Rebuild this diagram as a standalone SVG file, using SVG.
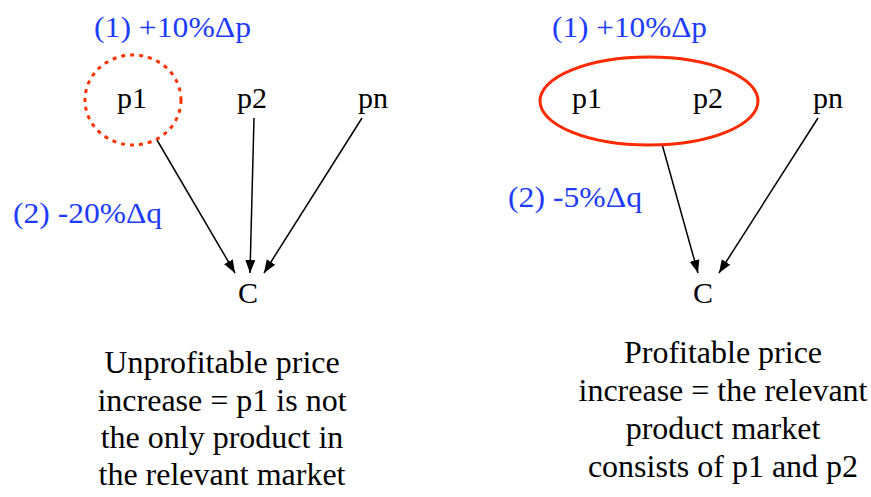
<svg xmlns="http://www.w3.org/2000/svg" width="871" height="497" viewBox="0 0 871 497" font-family="'Liberation Serif', 'DejaVu Serif', serif">
<style>
.lbl{font-family:'Liberation Serif','DejaVu Serif',serif;font-size:30px;fill:#000;text-anchor:middle;}
.blue{font-family:'Liberation Serif','DejaVu Serif',serif;font-size:30px;fill:#1d3cff;}
.cap{font-family:'Liberation Serif','DejaVu Serif',serif;font-size:32px;fill:#000;text-anchor:middle;}
.edge{stroke:#000;stroke-width:1.5;fill:none;marker-end:url(#ah);}
</style>
<defs>
<marker id="ah" markerUnits="userSpaceOnUse" markerWidth="14" markerHeight="12" refX="13" refY="5" orient="auto" viewBox="0 0 14 10">
<path d="M0,0 L13,5 L0,10 Z" fill="#000"/>
</marker>
</defs>
<rect width="871" height="497" fill="#fff"/>
<g id="connectors">
<line class="edge" x1="157" y1="140" x2="235" y2="273"/>
<line class="edge" x1="254" y1="118" x2="250" y2="273"/>
<line class="edge" x1="362" y1="118" x2="264" y2="273"/>
<line class="edge" x1="662" y1="144" x2="698" y2="273"/>
<line class="edge" x1="818" y1="118" x2="719" y2="273"/>
</g>
<g id="left-label1"><text class="blue" x="94" y="37" textLength="157" lengthAdjust="spacingAndGlyphs">(1) +10%Δp</text></g>
<g id="left-circle"><ellipse cx="133" cy="100" rx="48" ry="45" fill="none" stroke="#ff3300" stroke-width="3" stroke-dasharray="4,5"/></g>
<g id="left-p1"><text class="lbl" x="132" y="108">p1</text></g>
<g id="left-p2"><text class="lbl" x="252" y="108">p2</text></g>
<g id="left-pn"><text class="lbl" x="373" y="108">pn</text></g>
<g id="left-label2"><text class="blue" x="13" y="223" textLength="149" lengthAdjust="spacingAndGlyphs">(2) -20%Δq</text></g>
<g id="left-C"><text class="lbl" x="248" y="303">C</text></g>
<g id="left-caption">
<text class="cap" x="222" y="373">Unprofitable price</text>
<text class="cap" x="222" y="411">increase = p1 is not</text>
<text class="cap" x="222" y="448">the only product in</text>
<text class="cap" x="222" y="485">the relevant market</text>
</g>
<g id="right-label1"><text class="blue" x="552" y="37" textLength="155" lengthAdjust="spacingAndGlyphs">(1) +10%Δp</text></g>
<g id="right-ellipse"><ellipse cx="649" cy="101" rx="109" ry="44" fill="none" stroke="#ff2a00" stroke-width="3"/></g>
<g id="right-p1"><text class="lbl" x="587" y="108">p1</text></g>
<g id="right-p2"><text class="lbl" x="708" y="108">p2</text></g>
<g id="right-pn"><text class="lbl" x="828" y="108">pn</text></g>
<g id="right-label2"><text class="blue" x="508" y="207" textLength="134" lengthAdjust="spacingAndGlyphs">(2) -5%Δq</text></g>
<g id="right-C"><text class="lbl" x="703" y="303">C</text></g>
<g id="right-caption">
<text class="cap" x="723" y="363">Profitable price</text>
<text class="cap" x="723" y="401">increase = the relevant</text>
<text class="cap" x="723" y="439">product market</text>
<text class="cap" x="723" y="477">consists of p1 and p2</text>
</g>
</svg>
